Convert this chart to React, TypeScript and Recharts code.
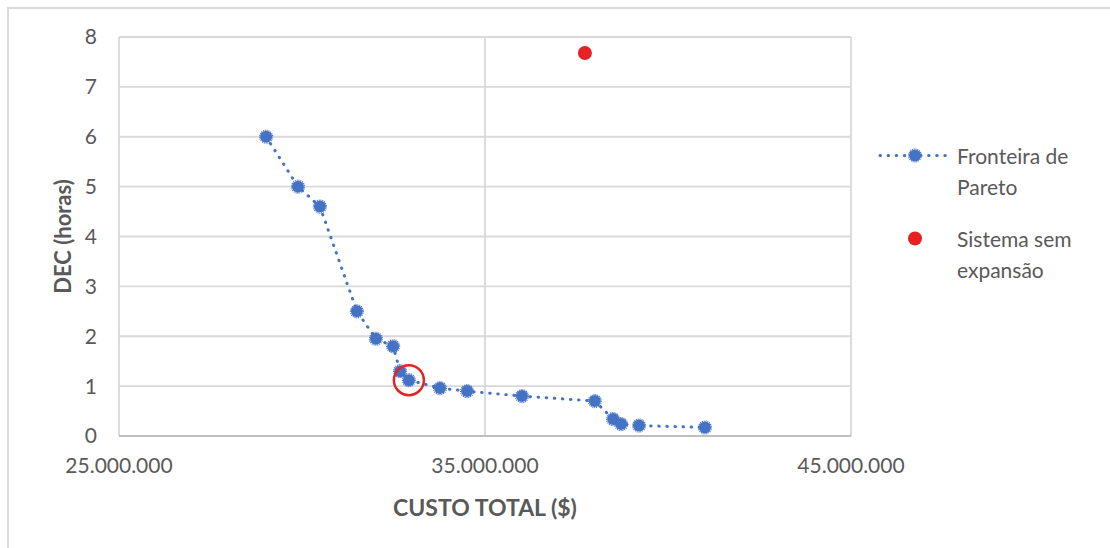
import {
  CartesianGrid,
  ReferenceDot,
  Scatter,
  ScatterChart,
  XAxis,
  YAxis,
} from 'recharts';

// Fronteira de Pareto: custo total ($) x DEC (horas)
const custoPareto = [
  29.02e6, 29.89e6, 30.49e6, 31.5e6, 32.02e6, 32.49e6, 32.68e6, 32.92e6,
  33.77e6, 34.51e6, 36.01e6, 38.0e6, 38.5e6, 38.72e6, 39.21e6, 41.01e6,
];
const decPareto = [
  6.0, 5.0, 4.6, 2.5, 1.95, 1.8, 1.3, 1.12, 0.96, 0.9, 0.8, 0.7, 0.34, 0.24, 0.21, 0.17,
];

// Sistema sem expansão
const custoSemExpansao = [37.73e6];
const decSemExpansao = [7.68];

// solução escolhida (circulada em vermelho)
const indiceDestaque = 7;

const xTicks = [25e6, 35e6, 45e6];
const yTicks = [0, 1, 2, 3, 4, 5, 6, 7, 8];

const BLUE = '#4472C4';
const RED = '#E62222';
const TEXT = '#595959';
const FONT = 'Lato, "Open Sans", sans-serif';

const pareto = custoPareto.map((custo, i) => ({ custo, dec: decPareto[i] }));
const semExpansao = custoSemExpansao.map((custo, i) => ({ custo, dec: decSemExpansao[i] }));

function formatMilhar(value: number) {
  return Math.round(value)
    .toString()
    .replace(/\B(?=(\d{3})+(?!\d))/g, '.');
}

function ParetoMarker(props: any) {
  const { cx, cy } = props;
  if (cx == null || cy == null) return null;
  return (
    <g>
      <circle cx={cx} cy={cy} r={6} fill={BLUE} />
      <circle
        cx={cx}
        cy={cy}
        r={6.5}
        fill="none"
        stroke={BLUE}
        strokeWidth={1.2}
        strokeDasharray="1 0.9"
      />
    </g>
  );
}

function RedMarker(props: any) {
  const { cx, cy } = props;
  if (cx == null || cy == null) return null;
  return <circle cx={cx} cy={cy} r={7} fill={RED} />;
}

function Legenda() {
  const textStyle = { fontSize: 21, color: TEXT, lineHeight: '31px' };
  return (
    <div style={{ position: 'absolute', left: 877, top: 140, fontFamily: FONT }}>
      <div style={{ display: 'flex', alignItems: 'flex-start' }}>
        <svg width={80} height={31}>
          <line
            x1={3}
            y1={15.5}
            x2={73}
            y2={15.5}
            stroke={BLUE}
            strokeWidth={3}
            strokeLinecap="round"
            strokeDasharray="0.5 7.6"
          />
          <ParetoMarker cx={38} cy={15.5} />
        </svg>
        <div style={textStyle}>
          Fronteira de
          <br />
          Pareto
        </div>
      </div>
      <div style={{ display: 'flex', alignItems: 'flex-start', marginTop: 21 }}>
        <svg width={80} height={31}>
          <RedMarker cx={38} cy={15.5} />
        </svg>
        <div style={textStyle}>
          Sistema sem
          <br />
          expansão
        </div>
      </div>
    </div>
  );
}

export default function App() {
  return (
    <div style={{ position: 'relative', width: 1110, height: 548, background: '#fff', overflow: 'hidden' }}>
      <style>{'body { margin: 0; }'}</style>
      <div
        style={{
          position: 'absolute',
          left: 7,
          top: 7,
          width: 1120,
          height: 560,
          borderLeft: '2px solid #d9d9d9',
          borderTop: '2px solid #d9d9d9',
        }}
      />
      <ScatterChart
        width={1110}
        height={548}
        margin={{ top: 37, right: 259, bottom: 32, left: 39 }}
        style={{ fontFamily: FONT }}
      >
        <CartesianGrid stroke="#d9d9d9" strokeWidth={1.8} />
        <XAxis
          type="number"
          dataKey="custo"
          domain={[25e6, 45e6]}
          ticks={xTicks}
          tickFormatter={formatMilhar}
          tick={{ fill: TEXT, fontSize: 21 }}
          tickLine={false}
          tickSize={0}
          tickMargin={22}
          axisLine={{ stroke: '#bfbfbf', strokeWidth: 1.8 }}
          height={80}
          label={{
            content: (props: any) => {
              const vb = props.viewBox;
              return (
                <text
                  x={vb.x + vb.width / 2}
                  y={vb.y + 71}
                  textAnchor="middle"
                  dominantBaseline="central"
                  fill={TEXT}
                  fontSize={23}
                  fontWeight="bold"
                >
                  CUSTO TOTAL ($)
                </text>
              );
            },
          }}
        />
        <YAxis
          type="number"
          dataKey="dec"
          domain={[0, 8]}
          ticks={yTicks}
          tick={{ fill: TEXT, fontSize: 21 }}
          tickLine={false}
          tickSize={0}
          tickMargin={22}
          axisLine={false}
          width={80}
          label={{
            content: (props: any) => {
              const vb = props.viewBox;
              const x = vb.x + 23;
              const y = vb.y + vb.height / 2;
              return (
                <text
                  x={x}
                  y={y}
                  transform={`rotate(-90 ${x} ${y})`}
                  textAnchor="middle"
                  dominantBaseline="central"
                  fill={TEXT}
                  fontSize={22}
                  fontWeight="bold"
                >
                  DEC (horas)
                </text>
              );
            },
          }}
        />
        <Scatter
          name="Fronteira de Pareto"
          data={pareto}
          line={{ stroke: BLUE, strokeWidth: 3, strokeDasharray: '0.5 7.6', strokeLinecap: 'round' }}
          lineType="joint"
          shape={ParetoMarker}
          isAnimationActive={false}
        />
        <Scatter
          name="Sistema sem expansão"
          data={semExpansao}
          shape={RedMarker}
          isAnimationActive={false}
        />
        <ReferenceDot
          x={custoPareto[indiceDestaque]}
          y={decPareto[indiceDestaque]}
          r={15}
          fill="none"
          stroke={RED}
          strokeWidth={2.5}
          ifOverflow="visible"
        />
      </ScatterChart>
      <Legenda />
    </div>
  );
}
